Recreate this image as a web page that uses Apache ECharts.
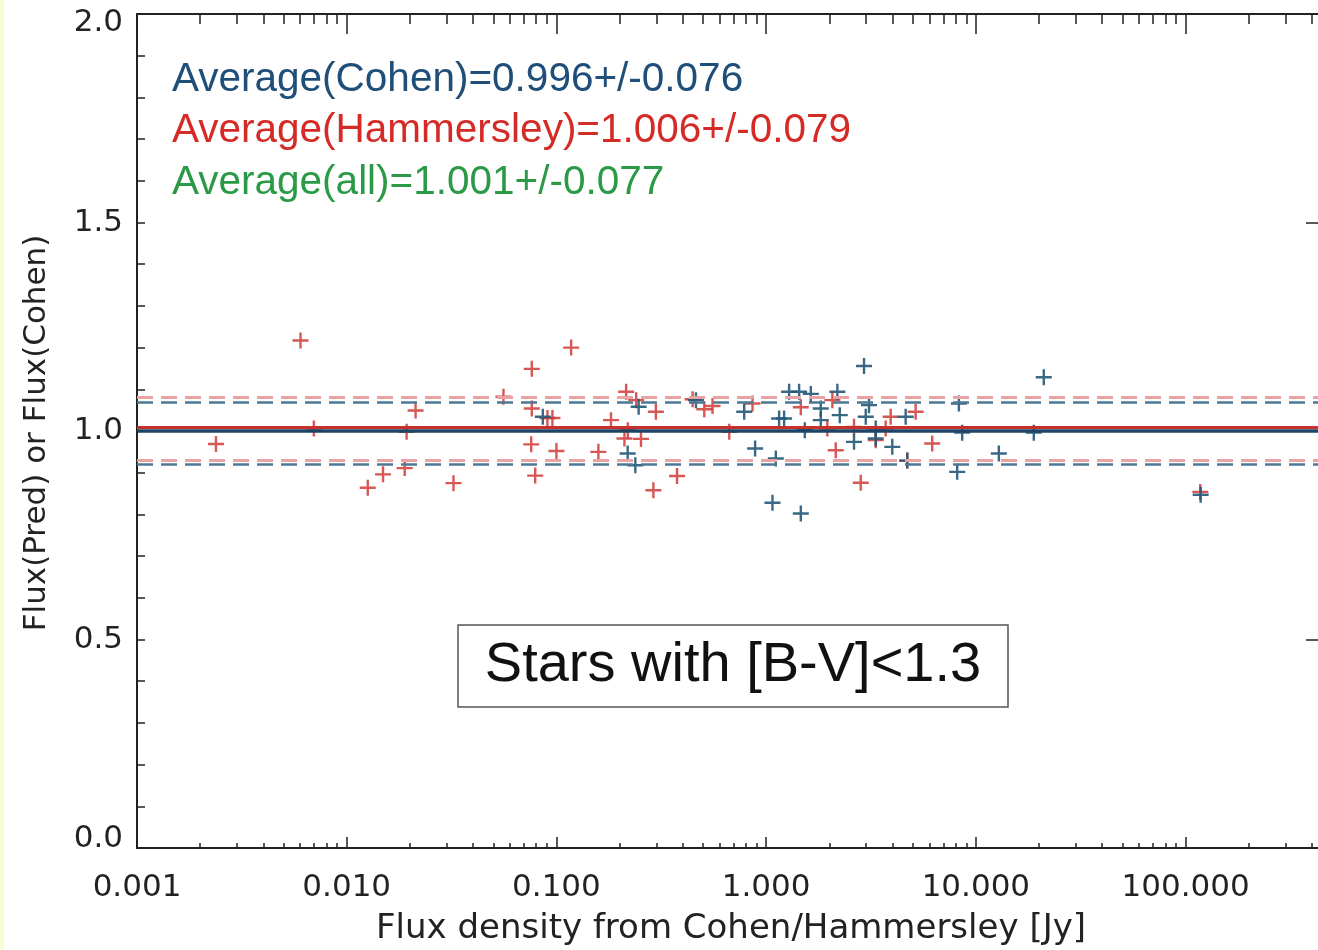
<!DOCTYPE html>
<html><head><meta charset="utf-8">
<script src="https://cdn.jsdelivr.net/npm/echarts@6/dist/echarts.min.js"></script>
<style>html,body{margin:0;padding:0;background:#fff}#c{width:1318px;height:950px}</style>
</head><body><div id="c"></div>
<script>
// ---- data ----
const hammersleyFlux = [0.00238, 0.00602, 0.00697, 0.0126, 0.0149, 0.0189, 0.0193, 0.0213, 0.0323, 0.0559,
  0.0763, 0.0763, 0.0758, 0.0792, 0.0906, 0.0957, 0.100, 0.1175, 0.1585, 0.182,
  0.215, 0.219, 0.211, 0.253, 0.240, 0.298, 0.290, 0.376, 0.446, 0.507,
  0.555, 0.667, 0.861, 1.463, 1.958, 2.069, 2.147, 2.624, 2.825, 3.715,
  3.925, 3.330, 5.163, 6.194, 4.709, 117.5];
const hammersleyRatio = [0.969, 1.217, 1.006, 0.864, 0.896, 0.911, 0.998, 1.049, 0.875, 1.082,
  1.149, 1.054, 0.968, 0.893, 1.031, 1.031, 0.952, 1.200, 0.950, 1.026,
  1.094, 1.002, 0.982, 0.981, 1.074, 1.046, 0.858, 0.892, 1.076, 1.052,
  1.060, 0.998, 1.066, 1.057, 1.006, 1.074, 0.954, 1.010, 0.876, 1.006,
  1.034, 0.978, 1.046, 0.970, 0.929, 0.854];
const cohenFlux = [0.0861, 0.2466, 0.2186, 0.2378, 0.4627, 0.786, 0.886, 1.112, 1.153, 1.218,
  1.287, 1.436, 1.633, 1.822, 1.822, 1.529, 2.186, 2.244, 2.929, 3.094,
  2.985, 2.624, 3.330, 3.330, 3.994, 1.072, 1.463, 21.08, 8.299, 4.627,
  8.606, 18.89, 4.709, 8.147, 12.87, 118.0];
const cohenRatio = [1.034, 1.058, 0.946, 0.918, 1.074, 1.046, 0.958, 0.934, 1.030, 1.030,
  1.094, 1.094, 1.089, 1.054, 1.026, 1.002, 1.094, 1.038, 1.156, 1.062,
  1.034, 0.974, 0.982, 1.006, 0.962, 0.828, 0.802, 1.129, 1.066, 1.034,
  0.996, 0.996, 0.929, 0.902, 0.946, 0.847];
const meanCohen = 0.996, sigmaCohen = 0.076;
const meanHammersley = 1.006, sigmaHammersley = 0.079;
const meanAll = 1.001, sigmaAll = 0.077;

const xMin = 0.001, xMax = 428;
const xMajorTicks = [0.001, 0.01, 0.1, 1, 10, 100];
const xTickLabels = ['0.001', '0.010', '0.100', '1.000', '10.000', '100.000'];
const minorMultipliers = [2, 3, 4, 5, 6, 7, 8, 9];
const yTickLabels = ['0.0', '0.5', '1.0', '1.5', '2.0'];

const xMinorTicks = [];
xMajorTicks.forEach(d => minorMultipliers.forEach(k => { const v = +(d * k).toPrecision(6); if (v <= xMax) xMinorTicks.push(v); }));

function xLabel(v) {
  for (let i = 0; i < xMajorTicks.length; i++) {
    if (Math.abs(Math.log10(v) - Math.log10(xMajorTicks[i])) < 1e-6) return xTickLabels[i];
  }
  return '';
}
function yLabel(v) {
  const i = Math.round(v / 0.5);
  const t = yTickLabels[i];
  if (i === 0) return '{up|' + t + '}';
  if (i === yTickLabels.length - 1) return '{dn|' + t + '}';
  return '{n|' + t + '}';
}

const plus = 'path://M6.8,0H9.2V6.8H16V9.2H9.2V16H6.8V9.2H0V6.8H6.8Z';
const RED = '#cf3a36', BLUE = '#245878';
const axisCol = '#222';

function xAxisDef(pos, ticks, len, showLine, showLabel) {
  return {
    type: 'log', logBase: 10, min: xMin, max: xMax, position: pos, gridIndex: 0,
    axisLine: { show: showLine, lineStyle: { color: axisCol, width: 2 } },
    axisTick: { show: true, inside: true, length: len, customValues: ticks, lineStyle: { color: axisCol, width: 1.5 } },
    minorTick: { show: false },
    splitLine: { show: false },
    axisLabel: showLabel ? {
      show: true, customValues: xMajorTicks, formatter: xLabel, margin: 24,
      fontFamily: 'DejaVu Sans', fontSize: 31, color: '#222'
    } : { show: false }
  };
}

const labFont = { fontFamily: 'DejaVu Sans', fontSize: 31, color: '#222' };
function yAxisDef(pos, showLabel, len, showMinor, showLine) {
  return {
    type: 'value', min: 0, max: 2, interval: 0.5, position: pos,
    axisLine: { show: showLine, onZero: false, lineStyle: { color: axisCol, width: 2 } },
    axisTick: { show: true, inside: true, length: len, lineStyle: { color: axisCol, width: 1.5 } },
    minorTick: { show: showMinor, splitNumber: 5, length: len, lineStyle: { color: axisCol, width: 1.5 } },
    splitLine: { show: false },
    axisLabel: showLabel ? {
      show: true, margin: 14, formatter: yLabel,
      rich: {
        n: labFont,
        up: Object.assign({ padding: [0, 0, 18, 0] }, labFont),
        dn: Object.assign({ padding: [18, 0, 0, 0] }, labFont)
      }
    } : { show: false }
  };
}

const chart = echarts.init(document.getElementById('c'), null, { renderer: 'canvas' });
const annot = (t, y, c) => ({ type: 'text', x: 172, y: y, z: 10,
  style: { text: t, font: '40.5px "Liberation Sans"', fill: c, verticalAlign: 'middle' } });

chart.setOption({
  animation: false,
  backgroundColor: '#ffffff',
  grid: { left: 137, top: 14, right: -3, bottom: 102 },
  xAxis: [
    xAxisDef('bottom', xMajorTicks, 11, true, true),
    xAxisDef('bottom', xMinorTicks, 5, false, false),
    xAxisDef('top', xMajorTicks, 20, true, false),
    xAxisDef('top', xMinorTicks, 10, false, false)
  ],
  yAxis: [yAxisDef('left', true, 8, true, true), yAxisDef('right', false, 12, false, false)],
  series: [
    {
      type: 'scatter', name: 'Hammersley', xAxisIndex: 0, yAxisIndex: 0,
      data: hammersleyFlux.map((x, i) => [x, hammersleyRatio[i]]),
      symbol: plus, symbolSize: 16, itemStyle: { color: RED, opacity: 0.85 },
      markLine: {
        silent: true, symbol: ['none', 'none'], label: { show: false },
        data: [
          { yAxis: meanHammersley + sigmaHammersley, lineStyle: { color: '#eaa3a3', width: 3, type: [16, 8] } },
          { yAxis: meanHammersley - sigmaHammersley, lineStyle: { color: '#eaa3a3', width: 3, type: [16, 8] } },
          { yAxis: meanHammersley, lineStyle: { color: '#c8302c', width: 3, type: 'solid' } }
        ]
      }
    },
    {
      type: 'scatter', name: 'Cohen', xAxisIndex: 0, yAxisIndex: 0,
      data: cohenFlux.map((x, i) => [x, cohenRatio[i]]),
      symbol: plus, symbolSize: 16, itemStyle: { color: BLUE, opacity: 0.9 },
      markLine: {
        silent: true, symbol: ['none', 'none'], label: { show: false },
        data: [
          { yAxis: meanCohen + sigmaCohen, lineStyle: { color: '#4d7894', width: 2.5, type: [16, 8] } },
          { yAxis: meanCohen - sigmaCohen, lineStyle: { color: '#4d7894', width: 2.5, type: [16, 8] } },
          { yAxis: meanCohen, lineStyle: { color: '#1d4465', width: 3.5, type: 'solid' } }
        ]
      }
    }
  ],
  graphic: [
    { type: 'rect', left: 0, top: 0, shape: { width: 4, height: 950 }, style: { fill: '#fbfbd6' } },
    annot('Average(Cohen)=' + meanCohen.toFixed(3) + '+/-' + sigmaCohen.toFixed(3), 80, '#1f4e79'),
    annot('Average(Hammersley)=' + meanHammersley.toFixed(3) + '+/-' + sigmaHammersley.toFixed(3), 131, '#d42b27'),
    annot('Average(all)=' + meanAll.toFixed(3) + '+/-' + sigmaAll.toFixed(3), 183, '#2b9a47'),
    { type: 'rect', z: 10, shape: { x: 458, y: 625, width: 550, height: 82 },
      style: { fill: '#ffffff', stroke: '#555', lineWidth: 1.5 } },
    { type: 'text', x: 733, y: 666, z: 11,
      style: { text: 'Stars with [B-V]<1.3', font: '56px "Liberation Sans"', fill: '#111', align: 'center', verticalAlign: 'middle' } },
    { type: 'text', x: 731, y: 929, z: 10,
      style: { text: 'Flux density from Cohen/Hammersley [Jy]', font: '34px "DejaVu Sans"', fill: '#222', align: 'center', verticalAlign: 'middle' } },
    { type: 'text', x: 37, y: 433, rotation: Math.PI / 2, z: 10,
      style: { text: 'Flux(Pred) or Flux(Cohen)', font: '31px "DejaVu Sans"', fill: '#222', align: 'center', verticalAlign: 'middle' } }
  ]
});
</script>
</body></html>
